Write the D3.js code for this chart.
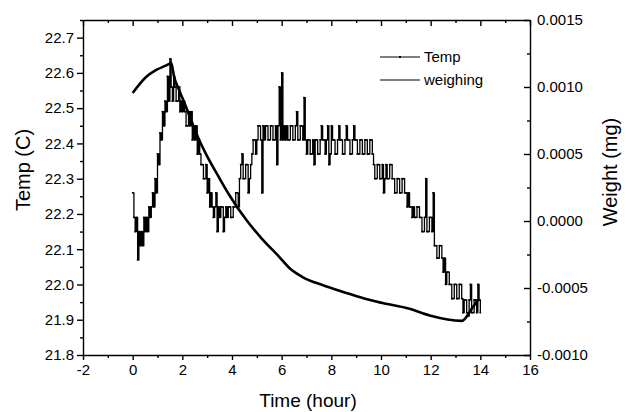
<!DOCTYPE html>
<html lang="en">
  <head>
    <meta charset="utf-8">
    <title>Temp and weighing</title>
    <script src="https://d3js.org/d3.v7.min.js"></script>
    <style>
      body { margin: 0; background: #fff; }
      text { font-family: "Liberation Sans", Arial, sans-serif; fill: #000; }
      .axis path, .axis line { stroke: #000; stroke-width: 1.4; }
    </style>
  </head>
  <body>
    <script type="text/javascript">
      // temperature samples, one every 0.05 hour from t = 0 (two per row pair = 0.1 h)
      var tempStep = 0.05;
      var tempValues = [
        22.26, 22.19, 22.15, 22.19, 22.07, 22.15, 22.11, 22.15, 22.11, 22.19,
        22.15, 22.19, 22.15, 22.22, 22.19, 22.22, 22.26, 22.22, 22.30, 22.26,
        22.37, 22.34, 22.43, 22.41, 22.49, 22.45, 22.52, 22.49, 22.59, 22.52,
        22.64, 22.56, 22.52, 22.59, 22.56, 22.52, 22.52, 22.56, 22.49, 22.52,
        22.49, 22.52, 22.49, 22.45, 22.45, 22.49, 22.45, 22.49, 22.41, 22.45,
        22.41, 22.45, 22.37, 22.41, 22.37, 22.34, 22.34, 22.30, 22.30, 22.34,
        22.26, 22.30, 22.22, 22.26, 22.22, 22.19, 22.22, 22.26, 22.15, 22.22,
        22.19, 22.22, 22.22, 22.15, 22.19, 22.22, 22.19, 22.22, 22.22, 22.19,
        22.19, 22.22, 22.22, 22.26, 22.26, 22.22, 22.30, 22.34, 22.37, 22.30,
        22.30, 22.34, 22.34, 22.26, 22.30, 22.34, 22.37, 22.41, 22.41, 22.37,
        22.41, 22.45, 22.45, 22.41, 22.26, 22.45, 22.41, 22.45, 22.45, 22.41,
        22.41, 22.45, 22.45, 22.41, 22.41, 22.45, 22.34, 22.45, 22.56, 22.41,
        22.60, 22.41, 22.45, 22.41, 22.45, 22.41, 22.41, 22.45, 22.45, 22.41,
        22.41, 22.45, 22.49, 22.41, 22.41, 22.45, 22.45, 22.41, 22.53, 22.41,
        22.37, 22.41, 22.41, 22.37, 22.37, 22.41, 22.34, 22.41, 22.41, 22.37,
        22.37, 22.41, 22.45, 22.41, 22.41, 22.37, 22.41, 22.45, 22.34, 22.37,
        22.45, 22.41, 22.41, 22.37, 22.37, 22.41, 22.45, 22.41, 22.41, 22.37,
        22.37, 22.41, 22.45, 22.41, 22.41, 22.37, 22.37, 22.41, 22.45, 22.41,
        22.41, 22.37, 22.37, 22.41, 22.41, 22.37, 22.37, 22.41, 22.41, 22.37,
        22.37, 22.41, 22.41, 22.37, 22.34, 22.30, 22.30, 22.34, 22.34, 22.30,
        22.30, 22.34, 22.26, 22.30, 22.34, 22.30, 22.30, 22.34, 22.34, 22.30,
        22.30, 22.26, 22.26, 22.30, 22.30, 22.26, 22.26, 22.30, 22.30, 22.26,
        22.26, 22.22, 22.26, 22.22, 22.22, 22.19, 22.22, 22.19, 22.19, 22.22,
        22.22, 22.19, 22.19, 22.15, 22.15, 22.19, 22.30, 22.15, 22.15, 22.19,
        22.19, 22.15, 22.26, 22.11, 22.11, 22.075, 22.075, 22.11, 22.11, 22.075,
        22.035, 22.075, 22.00, 22.035, 22.035, 22.00, 22.00, 21.96, 21.96, 22.00,
        22.00, 21.96, 21.96, 22.00, 22.00, 21.96, 21.92, 21.956, 21.956, 21.92,
        21.91, 21.956, 22.00, 21.92, 21.92, 21.956, 21.956, 21.92, 22.00, 21.956,
        21.92
      ];

      // weighing curve (hour, mg)
      var weighTime = [0, 0.54, 0.95, 1.47, 1.55, 1.67, 1.87, 2.15, 2.4, 2.68, 2.97, 3.49, 3.89,
                       4.58, 5.18, 5.91, 6.31, 6.84, 7.64, 8.61, 9.26, 10.06, 11.15, 11.96,
                       13.25, 13.7, 13.9];
      var weighValues = [0.000955, 0.001075, 0.001127, 0.001172, 0.00118, 0.001075, 0.000978,
                         0.000851, 0.000731, 0.000604, 0.000493, 0.000321, 0.000194, 0.000007,
                         -0.000127, -0.000269, -0.000351, -0.000418, -0.000478, -0.000537,
                         -0.000575, -0.000612, -0.000655, -0.000705, -0.000745, -0.000642,
                         -0.00059];

      // tick values
      var xTicks = [-2, 0, 2, 4, 6, 8, 10, 12, 14, 16];
      var xMinor = [-1, 1, 3, 5, 7, 9, 11, 13, 15];
      var tempTicks = [21.8, 21.9, 22.0, 22.1, 22.2, 22.3, 22.4, 22.5, 22.6, 22.7];
      var tempMinor = [21.85, 21.95, 22.05, 22.15, 22.25, 22.35, 22.45, 22.55, 22.65, 22.75];
      var weightTicks = [-0.001, -0.0005, 0, 0.0005, 0.001, 0.0015];
      var weightMinor = [-0.00075, -0.00025, 0.00025, 0.00075, 0.00125];

      var w = 626;
      var h = 412;
      var padLeft = 83, padRight = 530, padTop = 20, padBottom = 355;

      var xScale = d3.scaleLinear().domain([-2, 16]).range([padLeft, padRight]);
      var yTemp = d3.scaleLinear().domain([21.8, 22.75]).range([padBottom, padTop]);
      var yWeight = d3.scaleLinear().domain([-0.001, 0.0015]).range([padBottom, padTop]);

      var svg = d3.select("body")
                  .append("svg")
                  .attr("width", w)
                  .attr("height", h);

      // minor ticks first so the major axes sit on top
      svg.append("g").attr("class", "axis")
         .attr("transform", "translate(" + padLeft + ",0)")
         .call(d3.axisLeft(yTemp).tickValues(tempMinor).tickSize(3).tickFormat(""))
         .select(".domain").remove();
      svg.append("g").attr("class", "axis")
         .attr("transform", "translate(0," + padBottom + ")")
         .call(d3.axisBottom(xScale).tickValues(xMinor).tickSize(3).tickFormat(""))
         .select(".domain").remove();
      svg.append("g").attr("class", "axis")
         .attr("transform", "translate(" + padRight + ",0)")
         .call(d3.axisRight(yWeight).tickValues(weightMinor).tickSize(-3).tickFormat(""))
         .select(".domain").remove();
      svg.append("g").attr("class", "axis")
         .attr("transform", "translate(0," + padTop + ")")
         .call(d3.axisTop(xScale).tickValues(xMinor).tickSize(-3).tickFormat(""))
         .select(".domain").remove();

      // left axis - Temp
      svg.append("g").attr("class", "axis")
         .attr("transform", "translate(" + padLeft + ",0)")
         .call(d3.axisLeft(yTemp).tickValues(tempTicks).tickSizeInner(6).tickSizeOuter(0)
                 .tickPadding(3).tickFormat(function(d) { return d.toFixed(1); }))
         .selectAll("text").attr("font-size", 15);

      // bottom axis - Time
      svg.append("g").attr("class", "axis")
         .attr("transform", "translate(0," + padBottom + ")")
         .call(d3.axisBottom(xScale).tickValues(xTicks).tickSizeInner(5).tickSizeOuter(0)
                 .tickPadding(4).tickFormat(function(d) { return String(d); }))
         .selectAll("text").attr("font-size", 15);

      // right axis - Weight (ticks point inward)
      svg.append("g").attr("class", "axis")
         .attr("transform", "translate(" + padRight + ",0)")
         .call(d3.axisRight(yWeight).tickValues(weightTicks).tickSizeInner(-6).tickSizeOuter(0)
                 .tickPadding(7).tickFormat(function(d) { return d.toFixed(4); }))
         .selectAll("text").attr("font-size", 15);

      // top border
      svg.append("g").attr("class", "axis")
         .attr("transform", "translate(0," + padTop + ")")
         .call(d3.axisTop(xScale).tickValues(xTicks).tickSizeInner(-6).tickSizeOuter(0).tickFormat(""));

      // weighing curve
      var weighLine = d3.line()
                        .x(function(d, i) { return xScale(weighTime[i]); })
                        .y(function(d) { return yWeight(d); })
                        .curve(d3.curveMonotoneX);
      svg.append("path")
         .datum(weighValues)
         .attr("d", weighLine)
         .attr("fill", "none")
         .attr("stroke", "#000")
         .attr("stroke-width", 2.6);

      // temperature trace
      var tempLine = d3.line()
                       .x(function(d, i) { return xScale(i * tempStep); })
                       .y(function(d) { return yTemp(d); })
                       .curve(d3.curveStepAfter);
      svg.append("path")
         .datum(tempValues)
         .attr("d", tempLine)
         .attr("fill", "none")
         .attr("stroke", "#000")
         .attr("stroke-width", 1.3);

      svg.selectAll(".tempDot")
         .data(tempValues)
         .enter()
         .append("rect")
         .attr("class", "tempDot")
         .attr("x", function(d, i) { return xScale(i * tempStep) - 0.8; })
         .attr("y", function(d) { return yTemp(d) - 0.8; })
         .attr("width", 1.6)
         .attr("height", 1.6)
         .attr("fill", "#000");

      // legend
      var legend = svg.append("g").attr("transform", "translate(380,0)");
      legend.append("line")
            .attr("x1", 0).attr("x2", 40).attr("y1", 57).attr("y2", 57)
            .attr("stroke", "#000").attr("stroke-width", 1);
      legend.append("rect")
            .attr("x", 19).attr("y", 56).attr("width", 2).attr("height", 2).attr("fill", "#000");
      legend.append("text").attr("x", 44).attr("y", 62).attr("font-size", 15).text("Temp");
      legend.append("line")
            .attr("x1", 0).attr("x2", 40).attr("y1", 80).attr("y2", 80)
            .attr("stroke", "#000").attr("stroke-width", 1.2);
      legend.append("text").attr("x", 44).attr("y", 85).attr("font-size", 15).text("weighing");

      // axis titles
      svg.append("text")
         .attr("transform", "translate(30,170) rotate(-90)")
         .attr("text-anchor", "middle")
         .attr("font-size", 20)
         .text("Temp (C)");
      svg.append("text")
         .attr("transform", "translate(617,172) rotate(-90)")
         .attr("text-anchor", "middle")
         .attr("font-size", 20)
         .text("Weight (mg)");
      svg.append("text")
         .attr("x", 308)
         .attr("y", 407)
         .attr("text-anchor", "middle")
         .attr("font-size", 19)
         .text("Time (hour)");
    </script>
  </body>
</html>
